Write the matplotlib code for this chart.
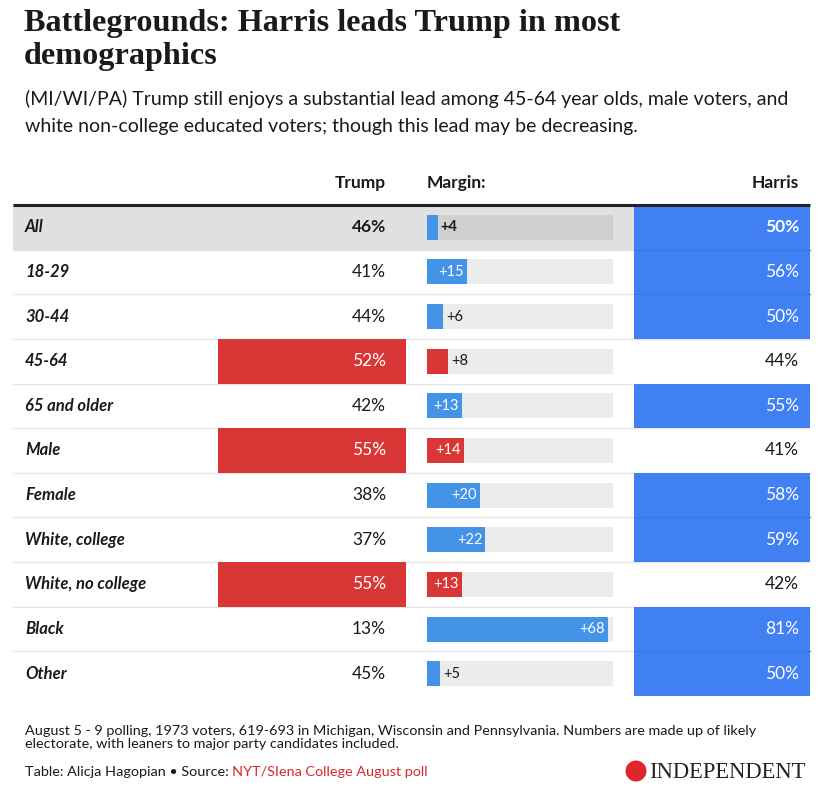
import matplotlib.pyplot as plt
from matplotlib.patches import Rectangle, Ellipse

groups = ['All', '18-29', '30-44', '45-64', '65 and older', 'Male', 'Female',
          'White, college', 'White, no college', 'Black', 'Other']
trump = [46, 41, 44, 52, 42, 55, 38, 37, 55, 13, 45]
harris = [50, 56, 50, 44, 55, 41, 58, 59, 42, 81, 50]
margin = [4, 15, 6, 8, 13, 14, 20, 22, 13, 68, 5]
leader = ['H', 'H', 'H', 'T', 'H', 'T', 'H', 'H', 'T', 'H', 'H']

RED = '#d93636'
BLUE_CELL = '#4080f2'
BLUE_BAR = '#4394e6'
TXT = '#1a1a1a'
FONT = 'Lato'

W, H = 836, 800
fig = plt.figure(figsize=(W / 100, H / 100), dpi=100)
fig.patch.set_facecolor('white')

def fx(px):
    return px / W

def fy(py):
    return 1 - py / H

# title block
fig.text(fx(24), fy(9), 'Battlegrounds: Harris leads Trump in most\ndemographics',
         family='Liberation Serif', weight='bold', fontsize=23.2, color=TXT,
         va='top', ha='left', linespacing=1.2)
fig.text(fx(25), fy(90), '(MI/WI/PA) Trump still enjoys a substantial lead among 45-64 year olds, male voters, and\n'
         'white non-college educated voters; though this lead may be decreasing.',
         family=FONT, fontsize=14, color=TXT, va='top', ha='left', linespacing=1.7)

n = len(groups)
top, bottom = 205, 696
# table axes: x in pixels, y in rows
ax = fig.add_axes([0, 1 - bottom / H, 1, (bottom - top) / H])
ax.set_xlim(0, W)
ax.set_ylim(n - 0.5, -0.5)
ax.axis('off')

# header
hy = -0.5 - 22 / ((bottom - top) / n)
ax.text(386, hy, 'Trump', ha='right', va='center', family=FONT, weight='bold', fontsize=12.5, color=TXT)
ax.text(427, hy, 'Margin:', ha='left', va='center', family=FONT, weight='bold', fontsize=12.5, color=TXT)
ax.text(799, hy, 'Harris', ha='right', va='center', family=FONT, weight='bold', fontsize=12.5, color=TXT)
ax.plot([13, 810], [-0.5, -0.5], color='#222222', lw=2.2, solid_capstyle='butt', zorder=5,
        clip_on=False)

# all-row shading
ax.add_patch(Rectangle((13, -0.5), 621, 1, color='#e0e0e0', lw=0, zorder=0))

for i in range(n - 1):
    ax.plot([13, 810], [i + 0.5, i + 0.5], color='#e6e6e6', lw=1, zorder=1)

for i, g in enumerate(groups):
    ax.text(25, i, g, ha='left', va='center', family=FONT, weight='bold', style='italic',
            fontsize=12, color=TXT)
    tw = 'bold' if i == 0 else 'normal'
    if leader[i] == 'T':
        ax.add_patch(Rectangle((218, i - 0.5), 188, 1, color=RED, lw=0, zorder=2))
        ax.text(386, i, f'{trump[i]}%', ha='right', va='center', family=FONT, fontsize=12.5,
                weight=tw, color='white', zorder=3)
    else:
        ax.text(386, i, f'{trump[i]}%', ha='right', va='center', family=FONT, fontsize=12.5,
                weight=tw, color=TXT, zorder=3)
    if leader[i] == 'H':
        ax.add_patch(Rectangle((634, i - 0.5), 176, 1, color=BLUE_CELL, lw=0, zorder=2))
        ax.text(799, i, f'{harris[i]}%', ha='right', va='center', family=FONT, fontsize=12.5,
                weight=tw, color='white', zorder=3)
    else:
        ax.text(799, i, f'{harris[i]}%', ha='right', va='center', family=FONT, fontsize=12.5,
                weight=tw, color=TXT, zorder=3)
    # faint separator inside blue cells
    if i > 0 and leader[i] == 'H' and leader[i - 1] == 'H':
        ax.plot([634, 810], [i - 0.5, i - 0.5], color='#3a78e6', lw=0.8, zorder=2.5)

# margin axes: x in margin points
mx = fig.add_axes([fx(427), 1 - bottom / H, 186 / W, (bottom - top) / H])
mx.set_xlim(0, 70)
mx.set_ylim(n - 0.5, -0.5)
mx.axis('off')
mx.patch.set_alpha(0)
track = ['#d0d0d0' if i == 0 else '#ececec' for i in range(n)]
mx.barh(range(n), [70] * n, height=0.56, color=track, lw=0, zorder=1)
cols = [BLUE_BAR if l == 'H' else RED for l in leader]
mx.barh(range(n), margin, height=0.56, color=cols, lw=0, zorder=2)
for i, m in enumerate(margin):
    w = 'bold' if i == 0 else 'normal'
    if m >= 10:
        mx.text(m - 1.2, i, f'+{m}', ha='right', va='center', family=FONT, fontsize=10.5,
                weight=w, color='white', zorder=3)
    else:
        mx.text(m + 1.2, i, f'+{m}', ha='left', va='center', family=FONT, fontsize=10.5,
                weight=w, color=TXT, zorder=3)

# footer
fig.text(fx(25), fy(725), 'August 5 - 9 polling, 1973 voters, 619-693 in Michigan, Wisconsin and Pennsylvania. '
         'Numbers are made up of likely\nelectorate, with leaners to major party candidates included.',
         family=FONT, fontsize=10.4, color=TXT, va='top', ha='left', linespacing=1.15)
t1 = fig.text(fx(25), fy(772), 'Table: Alicja Hagopian \u2022 Source: ', family=FONT, fontsize=10.4,
              color=TXT, va='center', ha='left')
fig.canvas.draw()
bb = t1.get_window_extent()
fig.text(bb.x1 / W, fy(772), 'NYT/SIena College August poll', family=FONT, fontsize=10.4,
         color='#d42a2a', va='center', ha='left')

# logo
fig.patches.append(Ellipse((fx(636), fy(771)), 21 / W, 21 / H, transform=fig.transFigure,
                           color='#e0262d', lw=0))
fig.text(fx(649), fy(772), 'INDEPENDENT', family='Liberation Serif', fontsize=16.3,
         color='#222222', va='center', ha='left')

fig.savefig('out.png', dpi=100)
